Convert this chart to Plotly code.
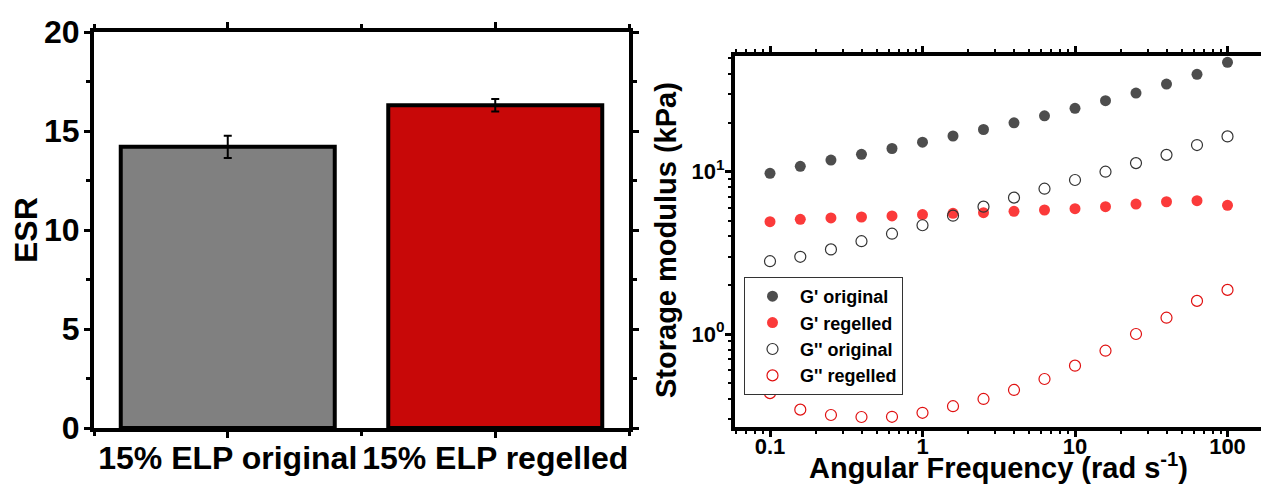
import plotly.graph_objects as go

# ---------------- data ----------------
categories = ["15% ELP original", "15% ELP regelled"]
esr = [14.2, 16.3]
esr_err = [0.56, 0.31]
bar_colors = ["#808080", "#c80808"]

freq = [0.1, 0.158, 0.251, 0.398, 0.631, 1.0, 1.585, 2.512, 3.981, 6.31,
        10.0, 15.85, 25.12, 39.81, 63.1, 100.0]
g1_original = [9.78, 10.8, 11.8, 12.8, 13.9, 15.2, 16.6, 18.2, 20.0, 22.1,
               24.6, 27.4, 30.5, 34.7, 39.8, 47.2]
g1_regelled = [4.92, 5.09, 5.19, 5.26, 5.34, 5.44, 5.54, 5.59, 5.70, 5.81,
               5.92, 6.09, 6.32, 6.53, 6.63, 6.21]
g2_original = [2.81, 2.99, 3.32, 3.73, 4.15, 4.68, 5.36, 6.09, 6.92, 7.86,
               8.89, 10.0, 11.3, 12.7, 14.6, 16.5]
g2_regelled = [0.432, 0.342, 0.317, 0.308, 0.309, 0.327, 0.359, 0.398, 0.452, 0.528,
               0.638, 0.789, 1.00, 1.26, 1.60, 1.87]

series_names = ["G' original", "G' regelled", "G'' original", "G'' regelled"]

W, H = 1261, 486
FONT = "Liberation Sans, Arial, sans-serif"

fig = go.Figure()

# ---------------- left panel: bars ----------------
fig.add_trace(go.Bar(
    x=list(range(len(categories))), y=esr, width=0.8,
    marker=dict(color=bar_colors, line=dict(color="black", width=4)),
    error_y=dict(type="data", array=esr_err, color="black", thickness=2, width=4),
    xaxis="x", yaxis="y", showlegend=False,
))

# ---------------- right panel: scatter ----------------
styles = [
    dict(symbol="circle", color="#4d4d4d", line=dict(width=0)),
    dict(symbol="circle", color="#fb3a3a", line=dict(width=0)),
    dict(symbol="circle-open", color="#333333", line=dict(width=1.2)),
    dict(symbol="circle-open", color="#e01010", line=dict(width=1.2)),
]
for name, vals, st in zip(series_names, [g1_original, g1_regelled, g2_original, g2_regelled], styles):
    fig.add_trace(go.Scatter(
        x=freq, y=vals, mode="markers", name=name,
        marker=dict(size=11, **st),
        xaxis="x2", yaxis="y2",
    ))

def px_x(p):
    return p / W

def px_y(p):
    return 1 - p / H

def tfont(size):
    return dict(family=FONT, size=size, color="black", weight="bold")

axis_common = dict(showline=True, linecolor="black", linewidth=4, ticks="outside",
                   tickcolor="black", tickwidth=3, showgrid=False, zeroline=False,
                   automargin=False)

fig.update_layout(
    width=W, height=H,
    margin=dict(l=0, r=0, t=0, b=0, autoexpand=False),
    plot_bgcolor="white", paper_bgcolor="white",
    font=dict(family=FONT, color="black"),
    xaxis=dict(
        **axis_common, tickfont=tfont(32), ticklabelstandoff=-7,
        domain=[px_x(94), px_x(629)],
        range=[-0.5, 1.5], tickvals=list(range(len(categories))), ticktext=categories,
        ticklen=6, mirror="ticks",
        minor=dict(ticks="outside", dtick=0.5, tick0=0, ticklen=4, tickwidth=3, tickcolor="black"),
        anchor="y",
    ),
    yaxis=dict(
        **axis_common, tickfont=tfont(32), ticklabelstandoff=-2,
        domain=[px_y(428), px_y(32)],
        range=[0, 20], dtick=5, ticklen=6, mirror="ticks",
        minor=dict(ticks="outside", dtick=2.5, ticklen=4, tickwidth=3, tickcolor="black"),
        anchor="x",
    ),
    xaxis2=dict(
        **axis_common, tickfont=tfont(22), ticklabelstandoff=-9,
        type="log", domain=[px_x(735), 1.0],
        range=[-1.2295, 2.2197],
        tickvals=[0.1, 1, 10, 100], ticktext=["0.1", "1", "10", "100"],
        ticklen=6, mirror="ticks",
        minor=dict(ticks="outside", ticklen=3, tickwidth=2, tickcolor="black", dtick="D1"),
        anchor="y2",
    ),
    yaxis2=dict(
        **axis_common, tickfont=tfont(22), ticklabelstandoff=-4,
        type="log", domain=[px_y(427), px_y(56)],
        range=[-0.573, 1.713],
        tickvals=[1, 10], ticktext=["10<sup>0</sup>", "10<sup>1</sup>"],
        ticklen=6, mirror=False,
        minor=dict(ticks="outside", ticklen=3, tickwidth=2, tickcolor="black", dtick="D1"),
        anchor="x2",
    ),
    legend=dict(
        x=px_x(744), y=px_y(277), xanchor="left", yanchor="top",
        bgcolor="white", bordercolor="#333333", borderwidth=1,
        font=tfont(18), itemwidth=45,
        tracegroupgap=0,
    ),
    annotations=[
        dict(text="ESR", xref="paper", yref="paper", x=px_x(26), y=px_y(230),
             xanchor="center", yanchor="middle", textangle=-90, showarrow=False,
             font=tfont(32)),
        dict(text="Storage modulus (kPa)", xref="paper", yref="paper", x=px_x(666), y=px_y(240),
             xanchor="center", yanchor="middle", textangle=-90, showarrow=False,
             font=tfont(29)),
        dict(text="Angular Frequency (rad s<sup>-1</sup>)", xref="paper", yref="paper",
             x=px_x(998), y=0, xanchor="center", yanchor="bottom", showarrow=False,
             font=tfont(29)),
    ],
)

fig.write_html("out.html")
